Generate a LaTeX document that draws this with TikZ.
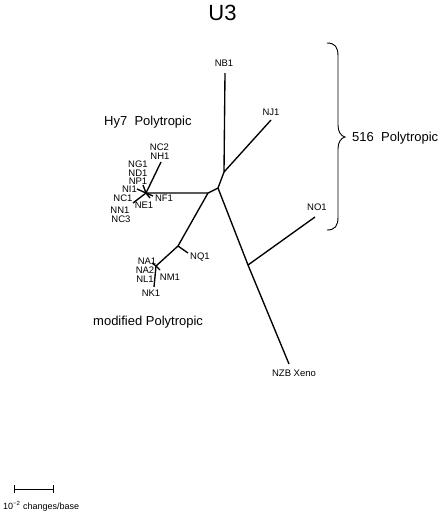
\documentclass[tikz,border=0pt]{standalone}
\usepackage{fontspec}
\setmainfont{Liberation Sans}
\begin{document}
\begin{tikzpicture}[x=1pt,y=-1pt,
  branch/.style={line width=1.35pt},
  tiplabel/.style={font=\fontsize{9.5}{10}\selectfont, inner sep=0pt},
  grouplabel/.style={font=\fontsize{13}{14}\selectfont, inner sep=0pt, anchor=base west},
  bracestyle/.style={line width=0.9pt}]
\useasboundingbox (0,0) rectangle (442,517);
% title
\node[font=\fontsize{22}{24}\selectfont, inner sep=0pt] (title) at (222.5,12.5) {U3};
% internal nodes
\coordinate (A) at (224,172);
\coordinate (B) at (218,188);
\coordinate (C) at (208,193);
\coordinate (H) at (146,193);
\coordinate (D) at (178,246);
\coordinate (E) at (248,265);
\coordinate (F) at (156,266);
% tips
\coordinate (tNB1) at (225,73);
\coordinate (tNJ1) at (271,120);
\coordinate (tNZB) at (289,364);
\coordinate (tNO1) at (315,217);
\coordinate (tNQ1) at (188,253);
\coordinate (tNK1) at (154,287);
\coordinate (tNC2) at (161,162);
\coordinate (tNG1) at (143,185);
\coordinate (tNI1) at (137,189);
\coordinate (tNC1) at (133,203);
\coordinate (tNE1) at (150,198);
\coordinate (tNF1) at (153,196);
\coordinate (tNA1) at (152,263);
\coordinate (tNM1) at (160,270);
% branches
\draw[branch] (tNB1) -- (A) -- (tNJ1);
\draw[branch] (A) -- (B) -- (C) -- (H);
\draw[branch] (C) -- (D) -- (F) -- (tNK1);
\draw[branch] (D) -- (tNQ1);
\draw[branch] (B) -- (E) -- (tNZB);
\draw[branch] (E) -- (tNO1);
\draw[branch] (H) -- (tNC2);
\draw[branch] (H) -- (tNG1);
\draw[branch] (H) -- (tNI1);
\draw[branch] (H) -- (tNC1);
\draw[branch] (H) -- (tNE1);
\draw[branch] (H) -- (tNF1);
\draw[branch] (F) -- (tNA1);
\draw[branch] (F) -- (tNM1);
% tip labels
\node[tiplabel] (lNB1) at (224,63.5) {NB1};
\node[tiplabel] (lNJ1) at (271,112) {NJ1};
\node[tiplabel] (lNO1) at (317,207) {NO1};
\node[tiplabel] (lNZB) at (294,373) {NZB Xeno};
\node[tiplabel] (lNC2) at (159.5,147) {NC2};
\node[tiplabel] (lNH1) at (160,156) {NH1};
\node[tiplabel] (lNG1) at (138,164.5) {NG1};
\node[tiplabel] (lND1) at (138,173) {ND1};
\node[tiplabel] (lNP1) at (138,181.5) {NP1};
\node[tiplabel] (lNI1) at (129.5,189.5) {NI1};
\node[tiplabel] (lNC1) at (123,198.5) {NC1};
\node[tiplabel] (lNE1) at (144,205) {NE1};
\node[tiplabel] (lNF1) at (164,198.5) {NF1};
\node[tiplabel] (lNN1) at (120,210.5) {NN1};
\node[tiplabel] (lNC3) at (121,219) {NC3};
\node[tiplabel] (lNQ1) at (200,257) {NQ1};
\node[tiplabel] (lNA1) at (147,261.5) {NA1};
\node[tiplabel] (lNA2) at (145,270) {NA2};
\node[tiplabel] (lNL1) at (145,279) {NL1};
\node[tiplabel] (lNM1) at (170,277) {NM1};
\node[tiplabel] (lNK1) at (151,293.5) {NK1};
% group labels
\node[grouplabel] (hy7) at (104,125.5) {Hy7\ \ Polytropic};
\node[grouplabel] (mod) at (93,325.5) {modified Polytropic};
\node[grouplabel] (p516) at (352,141) {516\ \ Polytropic};
% brace
\draw[bracestyle] (327,43) .. controls (335,43) and (338,47) .. (338,56) -- (338,125)
  .. controls (338,132) and (341,136) .. (345,137)
  .. controls (341,138) and (338,142) .. (338,149) -- (338,217)
  .. controls (338,226) and (335,230) .. (327,230);
% scale bar
\coordinate (s1) at (14,489);
\coordinate (s2) at (53,489);
\draw[line width=0.8pt] (s1) -- (s2);
\draw[line width=0.8pt] ([yshift=-4pt]s1) -- ([yshift=4pt]s1);
\draw[line width=0.8pt] ([yshift=-4pt]s2) -- ([yshift=4pt]s2);
\node[font=\fontsize{9}{10}\selectfont, inner sep=0pt, anchor=base west] (scale) at (3,509) {10\textsuperscript{−2} changes/base};
\end{tikzpicture}
\end{document}
